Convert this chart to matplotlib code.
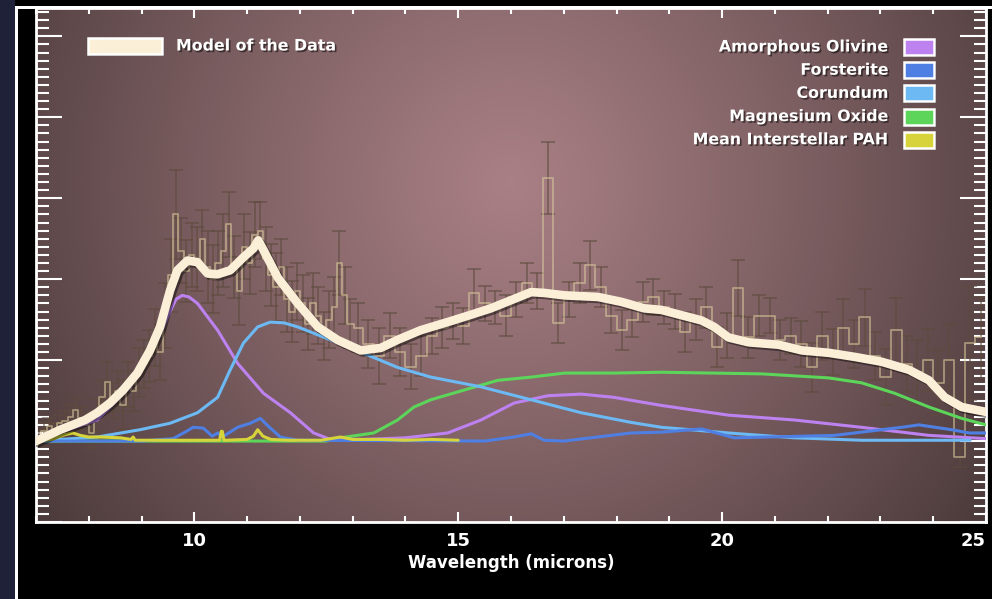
import matplotlib
matplotlib.use('Agg', force=True)
import matplotlib.pyplot as plt
import matplotlib.patheffects as pe
import numpy as np
from matplotlib.patches import Rectangle
from matplotlib.ticker import MultipleLocator

# observed spectrum: 0.1 micron bins below 13, 0.2 micron bins above
wave_short = np.arange(7.05, 13.0, 0.1)
wave_long = np.arange(13.1, 25.0, 0.2)
flux_short = [0.05, 0.12, 0.18, 0.10, 0.22, 0.25, 0.30, 0.38, 0.28, 0.20,
              0.10, 0.32, 0.55, 0.73, 0.50, 0.62, 0.45, 0.70, 0.62, 0.85,
              0.95, 1.05, 1.28, 1.10, 1.55, 2.05, 2.80, 2.35, 2.10, 2.30,
              2.25, 2.50, 2.15, 2.00, 2.20, 2.35, 2.68, 2.15, 1.85, 2.40,
              2.20, 2.55, 2.60, 2.25, 2.05, 1.90, 2.15, 1.75, 1.60, 1.85,
              1.70, 1.45, 1.70, 1.55, 1.30, 1.50, 1.65, 2.20, 1.80, 1.45]
flux_long = [1.40, 1.20, 1.05, 1.30, 1.10, 0.92, 1.05, 1.30, 1.40, 1.48,
             1.42, 1.83, 1.70, 1.65, 1.55, 1.75, 1.95, 1.85, 3.25, 1.46,
             1.75, 1.95, 2.17, 1.90, 1.55, 1.37, 1.50, 1.72, 1.78, 1.65,
             1.60, 1.35, 1.50, 1.65, 1.16, 1.30, 1.89, 1.28, 1.55, 1.55,
             1.25, 1.30, 1.20, 0.91, 1.30, 1.10, 1.40, 1.20, 1.53, 1.05,
             0.79, 1.37, 0.95, 0.85, 1.00, 0.72, 1.00, -0.20, 1.21, 1.28]
err_short = [0.10, 0.12, 0.10, 0.12, 0.10, 0.12, 0.14, 0.15, 0.14, 0.15,
             0.18, 0.20, 0.20, 0.25, 0.22, 0.25, 0.30, 0.28, 0.25, 0.30,
             0.30, 0.32, 0.35, 0.35, 0.40, 0.45, 0.55, 0.40, 0.38, 0.40,
             0.40, 0.35, 0.45, 0.42, 0.40, 0.45, 0.40, 0.38, 0.42, 0.40,
             0.38, 0.40, 0.35, 0.40, 0.38, 0.42, 0.35, 0.40, 0.38, 0.35,
             0.35, 0.32, 0.38, 0.35, 0.30, 0.35, 0.38, 0.40, 0.35, 0.30]
err_long = [0.30, 0.30, 0.35, 0.28, 0.30, 0.28, 0.25, 0.22, 0.25, 0.22,
            0.22, 0.30, 0.22, 0.20, 0.25, 0.22, 0.25, 0.22, 0.45, 0.25,
            0.22, 0.25, 0.30, 0.25, 0.22, 0.25, 0.22, 0.25, 0.22, 0.20,
            0.22, 0.25, 0.25, 0.25, 0.25, 0.28, 0.35, 0.25, 0.25, 0.22,
            0.25, 0.22, 0.28, 0.30, 0.30, 0.28, 0.35, 0.30, 0.35, 0.30,
            0.35, 0.40, 0.35, 0.40, 0.38, 0.40, 0.45, 0.12, 0.70, 0.50]

# model and dust components
model_x = [7.0, 7.46, 7.93, 8.16, 8.4, 8.65, 8.92, 9.16, 9.35, 9.54, 9.68, 9.87, 10.06, 10.25,
           10.44, 10.68, 10.93, 11.12, 11.21, 11.31, 11.58, 11.96, 12.34, 12.71, 13.15, 13.53,
           13.85, 14.29, 14.8, 15.24, 15.62, 16.0, 16.38, 16.63, 17.01, 17.65, 18.09, 18.52,
           18.85, 19.61, 19.85, 20.12, 20.5, 21.07, 21.51, 22.02, 22.51, 23.02, 23.54, 23.92,
           24.22, 24.54, 25.0]
model_y = [0.0, 0.14, 0.26, 0.35, 0.47, 0.63, 0.84, 1.12, 1.41, 1.86, 2.11, 2.23, 2.21, 2.07,
           2.06, 2.11, 2.27, 2.38, 2.48, 2.36, 2.02, 1.70, 1.41, 1.25, 1.12, 1.15,
           1.25, 1.37, 1.47, 1.56, 1.64, 1.74, 1.84, 1.83, 1.80, 1.78, 1.72, 1.64,
           1.62, 1.49, 1.41, 1.28, 1.22, 1.19, 1.12, 1.09, 1.04, 0.98, 0.88, 0.75,
           0.54, 0.42, 0.36]

olivine_x = [7.0, 7.5, 8.16, 8.78, 9.3, 9.54, 9.65, 9.77, 9.9, 10.06, 10.44, 10.82, 11.31, 11.82,
             12.26, 12.58, 13.21, 14.0, 14.8, 15.43, 16.06, 16.7, 17.33, 17.95, 18.85, 20.12,
             21.37, 22.64, 23.92, 25.0]
olivine_y = [0.0, 0.12, 0.26, 0.67, 1.25, 1.6, 1.75, 1.8, 1.78, 1.7, 1.37, 0.96, 0.59, 0.35,
             0.1, 0.02, 0.02, 0.04, 0.1, 0.26, 0.47, 0.56, 0.58, 0.54, 0.44, 0.32,
             0.26, 0.17, 0.07, 0.03]

forsterite_x = [7.0, 9.0, 9.6, 9.85, 9.98, 10.17, 10.34, 10.44, 10.53, 10.82, 11.06, 11.25,
                11.44, 11.63, 11.96, 15.5, 16.06, 16.38, 16.63, 17.0, 18.28, 18.85, 19.61,
                20.23, 20.88, 22.13, 23.4, 23.73, 24.35, 24.68, 25.0]
forsterite_y = [0.0, 0.0, 0.03, 0.12, 0.17, 0.16, 0.06, 0.10, 0.05, 0.17, 0.22, 0.28,
                0.16, 0.05, 0.01, 0.0, 0.05, 0.09, 0.01, 0.0, 0.10, 0.11, 0.15,
                0.04, 0.05, 0.07, 0.17, 0.20, 0.14, 0.10, 0.10]

corundum_x = [7.0, 8.16, 8.97, 9.54, 10.06, 10.44, 10.68, 10.93, 11.2, 11.44, 11.7, 11.96,
              12.58, 13.15, 13.85, 14.48, 15.43, 16.38, 17.33, 18.28, 18.85, 20.12, 21.37,
              22.64, 24.7]
corundum_y = [0.0, 0.05, 0.14, 0.22, 0.35, 0.54, 0.88, 1.21, 1.41, 1.47, 1.46, 1.41,
              1.25, 1.10, 0.91, 0.79, 0.67, 0.51, 0.35, 0.23, 0.17, 0.10, 0.04,
              0.01, 0.01]

mgo_x = [7.0, 12.5, 12.77, 13.4, 13.85, 14.16, 14.48, 15.11, 15.75, 16.38, 17.01, 17.95,
         18.85, 20.75, 22.02, 22.64, 23.27, 23.92, 24.54, 25.0]
mgo_y = [0.0, 0.0, 0.04, 0.10, 0.26, 0.42, 0.51, 0.63, 0.75, 0.79, 0.84, 0.84,
         0.85, 0.83, 0.78, 0.72, 0.59, 0.42, 0.28, 0.20]

pah_x = [7.0, 7.3, 7.55, 7.7, 7.84, 8.0, 8.22, 8.6, 8.8, 8.84, 8.88, 9.0, 9.5, 10.0, 10.48,
         10.51, 10.53, 10.56, 10.6, 11.0, 11.12, 11.2, 11.3, 11.45, 11.8, 12.4, 12.77, 13.0,
         13.5, 14.0, 14.5, 15.0]
pah_y = [0.0, 0.02, 0.08, 0.10, 0.07, 0.05, 0.05, 0.04, 0.02, 0.05, 0.01, 0.01, 0.01, 0.01,
         0.01, 0.12, 0.12, 0.01, 0.01, 0.02, 0.06, 0.14, 0.06, 0.02, 0.01, 0.01, 0.05, 0.02,
         0.02, 0.01, 0.02, 0.01]

components = ['Amorphous Olivine', 'Forsterite', 'Corundum', 'Magnesium Oxide', 'Mean Interstellar PAH']
colors = {'Amorphous Olivine': '#bd82f0', 'Forsterite': '#4f7fe3', 'Corundum': '#6cb9f4',
          'Magnesium Oxide': '#5cd55a', 'Mean Interstellar PAH': '#d6d43a', 'model': '#fcefd8'}

FONT = 'DejaVu Sans'
shadow = [pe.withSimplePatchShadow(offset=(1.2, -1.2), shadow_rgbFace='black', alpha=0.5)]

fig = plt.figure(figsize=(9.92, 5.99), dpi=100, facecolor='black')
# slide framing on the left / top
fig.patches.append(Rectangle((0, 0), 15 / 992, 1, transform=fig.transFigure, facecolor='#1e2138', edgecolor='none', zorder=0))
fig.patches.append(Rectangle((15 / 992, 0), 3 / 992, 1 - 6 / 599, transform=fig.transFigure, facecolor='white', edgecolor='none', zorder=0))
fig.patches.append(Rectangle((15 / 992, 1 - 9 / 599), 1, 3 / 599, transform=fig.transFigure, facecolor='white', edgecolor='none', zorder=0))

ax = fig.add_axes([36 / 992, 1 - 522 / 599, 950 / 992, 514 / 599])
xmin, xmax, ymin, ymax = 7, 25, -1, 5.35

# radial glow background
yy, xx = np.mgrid[0:1:300j, 0:1:500j]
r = np.sqrt(((xx - 0.5) * 950) ** 2 + ((yy - 0.66) * 514) ** 2) / 620
t = np.clip(r, 0, 1) ** 1.1
inner = np.array([0.66, 0.50, 0.52])
outer = np.array([0.27, 0.21, 0.21])
bg = inner[None, None, :] * (1 - t[..., None]) + outer[None, None, :] * t[..., None]
ax.imshow(bg, extent=[xmin, xmax, ymin, ymax], aspect='auto', origin='lower', zorder=0)

wave = np.concatenate([wave_short, wave_long])
flux = np.array(flux_short + flux_long)
err = np.array(err_short + err_long)
ax.errorbar(wave, flux, yerr=err, fmt='none', ecolor='#5e4b3d', elinewidth=1.1, capsize=5, capthick=1.1, alpha=0.7, zorder=2)
ax.step(wave, flux, where='mid', color='#d9c99a', lw=1.3, alpha=0.6, zorder=3)

for name, xs, ys in [('Magnesium Oxide', mgo_x, mgo_y), ('Amorphous Olivine', olivine_x, olivine_y),
                     ('Corundum', corundum_x, corundum_y), ('Forsterite', forsterite_x, forsterite_y),
                     ('Mean Interstellar PAH', pah_x, pah_y)]:
    ax.plot(xs, ys, color=colors[name], lw=2.2, solid_capstyle='round', zorder=4)

ax.plot(model_x, model_y, color=colors['model'], lw=6.2, solid_capstyle='round', solid_joinstyle='round', zorder=5,
        path_effects=[pe.SimpleLineShadow(offset=(1.5, -1.5), shadow_color='black', alpha=0.45), pe.Normal()])

ax.set_xlim(xmin, xmax)
ax.set_ylim(ymin, ymax)
ax.xaxis.set_major_locator(MultipleLocator(5))
ax.xaxis.set_minor_locator(MultipleLocator(1))
ax.yaxis.set_major_locator(MultipleLocator(1))
ax.yaxis.set_minor_locator(MultipleLocator(0.1))
ax.tick_params(axis='x', which='major', direction='in', top=True, length=7, width=1.5, color='white', labelcolor='white', labelsize=13, pad=7)
ax.tick_params(axis='x', which='minor', direction='in', top=True, length=4, width=1.5, color='white')
ax.tick_params(axis='y', which='major', direction='in', left=True, right=True, length=19, width=1.5, color='white', labelleft=False)
ax.tick_params(axis='y', which='minor', direction='in', left=True, right=True, length=9, width=1.5, color='white')
fig.canvas.draw()
for lab in ax.get_xticklabels():
    lab.set_fontweight('bold')
    lab.set_family(FONT)
    if lab.get_text() == '25':
        lab.set_horizontalalignment('right')
for s in ax.spines.values():
    s.set_color('white')
    s.set_linewidth(2)
ax.set_xlabel('Wavelength (microns)', color='white', fontsize=12, fontweight='bold', family=FONT, labelpad=3)

# legends drawn by hand in axes fraction
def px(x, y):
    return (x - 36) / 950, (522 - y) / 514

x0, y0 = px(88, 54)
ax.add_patch(Rectangle((x0, y0), 74 / 950, 16 / 514, transform=ax.transAxes, facecolor=colors['model'],
                       edgecolor='white', lw=1.8, zorder=6, path_effects=shadow))
ax.text(*px(176, 46), 'Model of the Data', transform=ax.transAxes, color='white', fontsize=11.4, fontweight='bold',
        family=FONT, va='center', ha='left', zorder=6, path_effects=shadow)

for i, name in enumerate(components):
    yc = 47 + i * 23.2
    bx, by = px(904, yc + 8)
    ax.add_patch(Rectangle((bx, by), 30 / 950, 16 / 514, transform=ax.transAxes, facecolor=colors[name],
                           edgecolor='white', lw=1.8, zorder=6, path_effects=shadow))
    ax.text(*px(889, yc), name, transform=ax.transAxes, color='white', fontsize=11.4, fontweight='bold',
            family=FONT, va='center', ha='right', zorder=6, path_effects=shadow)

fig.savefig('out.png', dpi=100, facecolor='black')
plt.close(fig)
